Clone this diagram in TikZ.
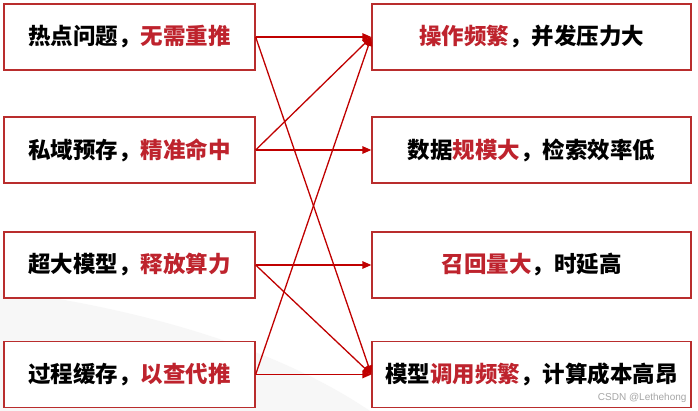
\documentclass[tikz,border=0pt]{standalone}
\usepackage{fontspec}
\setmainfont{Noto Sans CJK SC}
\newfontfamily\markfont{Liberation Sans}
\usepackage{xcolor}
\usetikzlibrary{arrows.meta}

\definecolor{linered}{RGB}{192,0,0}
\definecolor{boxred}{RGB}{185,45,45}
\definecolor{textred}{RGB}{190,35,45}

\begin{document}
\begin{tikzpicture}[
    x=1pt, y=-1pt,
    >={Triangle[length=9pt,width=7.5pt]},
    every node/.style={font=\fontsize{22.5}{26}\selectfont\bfseries},
    box/.style={draw=boxred, line width=1.3pt, fill=white, inner sep=0pt,
                minimum height=66pt},
    cause/.style={box, minimum width=251pt},
    effect/.style={box, minimum width=319pt},
    link/.style={->, draw=linered, line width=1.3pt},
  ]
  %% ---- Canvas ----
  \useasboundingbox (0,0) rectangle (698,411);
  \fill[white] (0,0) rectangle (698,411);
  % faint grey wedge at bottom left
  \fill[black!3] (0,290) .. controls (150,310) and (280,350) .. (370,411)
    -- (0,411) -- cycle;
  %% ---- Nodes ----
  % Left column
  \node[cause] (hot)   at (129.5, 37)  {热点问题，\textcolor{textred}{无需重推}};
  \node[cause] (priv)  at (129.5,150)  {私域预存，\textcolor{textred}{精准命中}};
  \node[cause] (big)   at (129.5,265)  {超大模型，\textcolor{textred}{释放算力}};
  \node[cause] (cache) at (129.5,374.5){过程缓存，\textcolor{textred}{以查代推}};
  % Right column
  \node[effect] (ops)    at (531.5, 37)  {\textcolor{textred}{操作频繁}，并发压力大};
  \node[effect] (scale)  at (531.5,150)  {数据\textcolor{textred}{规模大}，检索效率低};
  \node[effect] (recall) at (531.5,265)  {\textcolor{textred}{召回量大}，时延高};
  \node[effect] (call)   at (531.5,374.5){模型\textcolor{textred}{调用频繁}，计算成本高昂};
  %% ---- Arrows ----
  \draw[link] (hot.east)   -- (ops.west);
  \draw[link] (hot.east)   -- (call.west);
  \draw[link] (priv.east)  -- (ops.west);
  \draw[link] (priv.east)  -- (scale.west);
  \draw[link] (big.east)   -- (recall.west);
  \draw[link] (big.east)   -- (call.west);
  \draw[link] (cache.east) -- (ops.west);
  \draw[link] (cache.east) -- (call.west);
  %% ---- Watermark ----
  \node[font=\markfont\fontsize{10}{12}\selectfont, text=black!35, anchor=east]
    (mark) at (690,398) {CSDN @Lethehong};
\end{tikzpicture}
\end{document}
